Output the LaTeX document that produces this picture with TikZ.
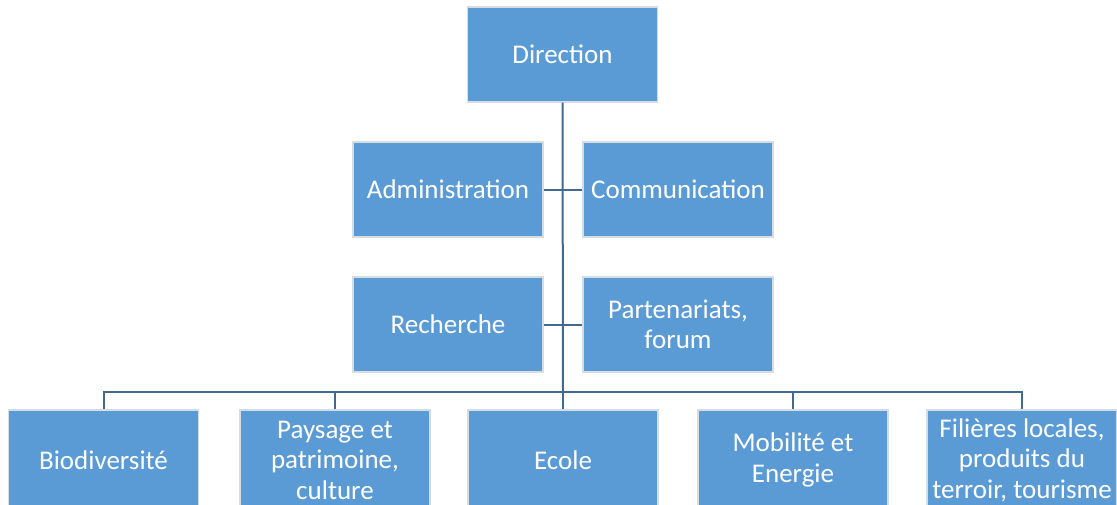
\documentclass[tikz,border=0pt]{standalone}
\usepackage{fontspec}
\setmainfont{Carlito}
\definecolor{boxfill}{HTML}{5B9BD5}
\definecolor{boxline}{HTML}{D6DCE4}
\definecolor{conn}{HTML}{44698F}
\begin{document}
\begin{tikzpicture}[x=1pt,y=-1pt,
  unit/.style={draw=boxline,line width=1.2pt,fill=boxfill,text=white,
    minimum width=190pt,minimum height=95pt,inner sep=0pt,align=center,
    font=\fontsize{27}{30.5}\selectfont},
  low/.style={minimum height=100pt},
  link/.style={draw=conn,line width=2pt}]
\useasboundingbox (0,0) rectangle (1117,504);
\clip (0,0) rectangle (1117,504);
\node[unit] (dir) at (562.5,54.5) {Direction};
\node[unit] (adm) at (448,189.5) {Administration};
\node[unit] (com) at (678,189.5) {Communication};
\node[unit] (rec) at (448,324.5) {Recherche};
\node[unit] (par) at (678,324.5) {Partenariats,\\forum};
\node[unit,low] (bio) at (103.5,460) {Biodiversité};
\node[unit,low] (pay) at (335,460) {Paysage et\\patrimoine,\\culture};
\node[unit,low] (eco) at (563,460) {Ecole};
\node[unit,low] (mob) at (793,460) {Mobilité et\\Energie};
\node[unit,low] (fil) at (1022,460) {Filières locales,\\produits du\\terroir, tourisme};
\coordinate (hub) at (563,392);
\draw[link] (dir.south) -- (hub);
\draw[link] (adm.east) -- (com.west);
\draw[link] (rec.east) -- (par.west);
\draw[link] (hub) -| (bio.north);
\draw[link] (hub) -| (pay.north);
\draw[link] (hub) -- (eco.north);
\draw[link] (hub) -| (mob.north);
\draw[link] (hub) -| (fil.north);
\end{tikzpicture}
\end{document}
